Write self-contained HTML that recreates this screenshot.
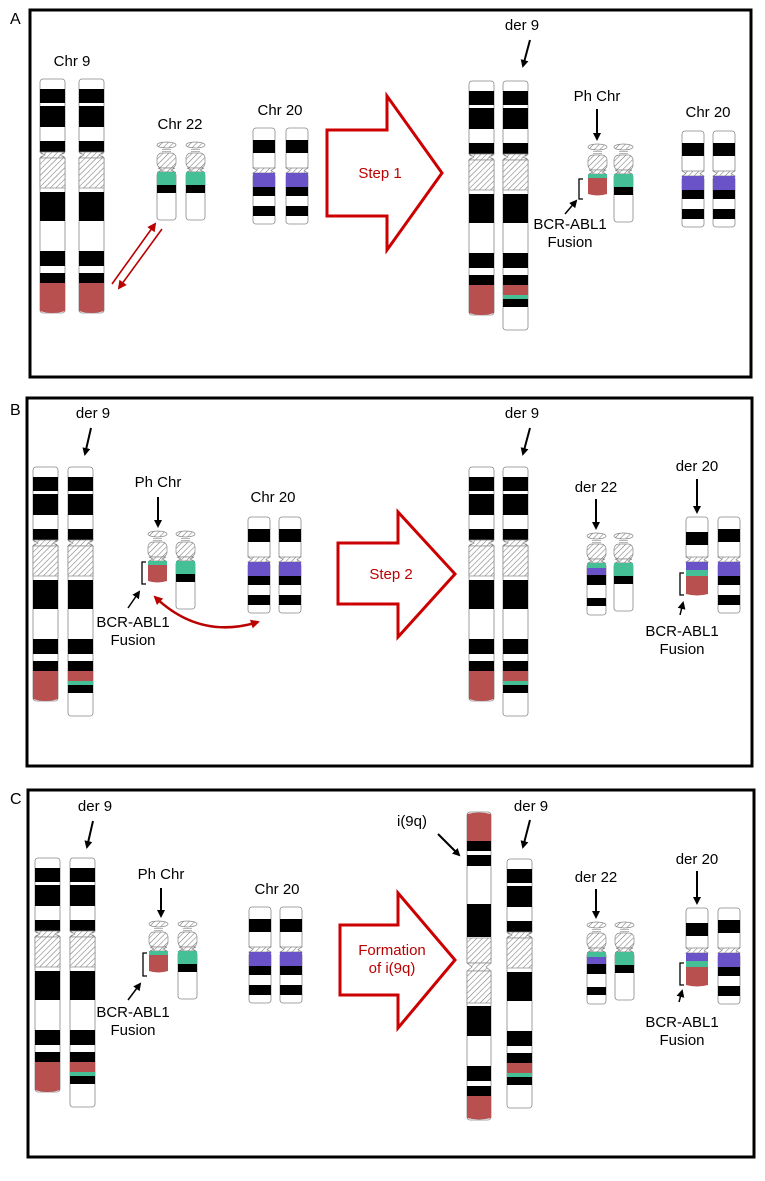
<!DOCTYPE html>
<html><head><meta charset="utf-8"><style>
html,body{margin:0;padding:0;background:#fff}
svg{display:block}
text{font-family:"Liberation Sans",sans-serif;font-size:15px;fill:#000;text-anchor:middle}
.o{fill:#fff;stroke:#888;stroke-width:.8}
.k{fill:#000}
.r{fill:#b95050}
.g{fill:#45c096}
.p{fill:#6a52c9}
.h{fill:url(#hp);stroke:#888;stroke-width:.7}
.box{fill:none;stroke:#000;stroke-width:3}
.ar{stroke:#000;stroke-width:2;fill:none;marker-end:url(#ah)}
.big{fill:#fff;stroke:#c00;stroke-width:3}
.rt{fill:#b00;font-size:15px}
.br{fill:none;stroke:#000;stroke-width:1.3}
</style></head><body>
<svg width="765" height="1181" viewBox="0 0 765 1181" xmlns="http://www.w3.org/2000/svg">
<defs>
<pattern id="hp" width="4" height="4" patternUnits="userSpaceOnUse" patternTransform="rotate(45)">
<rect width="4" height="4" fill="#fff"/><line x1="0" y1="0" x2="0" y2="4" stroke="#777" stroke-width="1.1"/></pattern>
<marker id="ah" markerWidth="8" markerHeight="8" refX="6" refY="4" orient="auto" markerUnits="userSpaceOnUse"><path d="M0,0 L8,4 L0,8 z" fill="#000"/></marker>
<marker id="rh" markerWidth="9" markerHeight="9" refX="7" refY="4.5" orient="auto" markerUnits="userSpaceOnUse"><path d="M0,0 L9,4.5 L0,9 z" fill="#b00"/></marker>
<marker id="rhs" markerWidth="9" markerHeight="9" refX="2" refY="4.5" orient="auto" markerUnits="userSpaceOnUse"><path d="M9,0 L0,4.5 L9,9 z" fill="#b00"/></marker>

<g id="c9">
<rect class="o" x="0" y="0" width="25" height="75" rx="3"/>
<rect class="o" x="0" y="77" width="25" height="157" rx="3"/>
<rect class="k" x="0" y="10" width="25" height="14"/><rect class="k" x="0" y="27" width="25" height="21"/><rect class="k" x="0" y="62" width="25" height="11"/>
<polygon class="h" points="0,73 25,73 20,76 25,79 0,79 5,76"/>
<rect class="h" x="0" y="79" width="25" height="30"/>
<rect class="k" x="0" y="113" width="25" height="29"/><rect class="k" x="0" y="172" width="25" height="15"/><rect class="k" x="0" y="194" width="25" height="10"/>
<path class="r" d="M0,204 H25 V232 Q12.5,236 0,232 Z"/>
</g>
<g id="d9">
<rect class="o" x="0" y="0" width="25" height="75" rx="3"/>
<rect class="o" x="0" y="77" width="25" height="172" rx="3"/>
<rect class="k" x="0" y="10" width="25" height="14"/><rect class="k" x="0" y="27" width="25" height="21"/><rect class="k" x="0" y="62" width="25" height="11"/>
<polygon class="h" points="0,73 25,73 20,76 25,79 0,79 5,76"/>
<rect class="h" x="0" y="79" width="25" height="30"/>
<rect class="k" x="0" y="113" width="25" height="29"/><rect class="k" x="0" y="172" width="25" height="15"/><rect class="k" x="0" y="194" width="25" height="10"/>
<rect class="r" x="0" y="204" width="25" height="10"/><rect class="g" x="0" y="214" width="25" height="4"/><rect class="k" x="0" y="218" width="25" height="8"/>
</g>
<g id="top22">
<ellipse class="h" cx="9.5" cy="3" rx="9.5" ry="3"/>
<line x1="5" y1="7.5" x2="14" y2="7.5" stroke="#999" stroke-width=".7"/><line x1="5" y1="9.5" x2="14" y2="9.5" stroke="#999" stroke-width=".7"/>
<rect class="h" x="0" y="11" width="19" height="15" rx="5"/>
<polygon class="h" points="1,26 18,26 14,28 18,30 1,30 5,28"/>
</g>
<g id="c22"><use href="#top22"/>
<rect class="o" x="0" y="30" width="19" height="48" rx="3"/>
<rect class="g" x="0" y="30" width="19" height="13"/><rect class="k" x="0" y="43" width="19" height="8"/></g>
<g id="ph"><use href="#top22"/>
<rect class="g" x="0" y="30" width="19" height="4"/>
<path class="r" d="M0,34 H19 V50 Q9.5,53 0,50 Z"/></g>
<g id="d22"><use href="#top22"/>
<rect class="o" x="0" y="30" width="19" height="52" rx="3"/>
<rect class="g" x="0" y="30" width="19" height="5"/><rect class="p" x="0" y="35" width="19" height="7"/><rect class="k" x="0" y="42" width="19" height="10"/><rect class="k" x="0" y="65" width="19" height="8"/></g>
<g id="c20">
<rect class="o" x="0" y="0" width="22" height="41" rx="3"/>
<rect class="o" x="0" y="45" width="22" height="51" rx="3"/>
<rect class="k" x="0" y="12" width="22" height="13"/>
<polygon class="h" points="0,40 22,40 18,42.5 22,45 0,45 4,42.5"/>
<rect class="p" x="0" y="45" width="22" height="14"/><rect class="k" x="0" y="59" width="22" height="9"/><rect class="k" x="0" y="78" width="22" height="10"/></g>
<g id="d20">
<rect class="o" x="0" y="0" width="22" height="41" rx="3"/>
<rect class="k" x="0" y="15" width="22" height="13"/>
<polygon class="h" points="0,40 22,40 18,42.5 22,45 0,45 4,42.5"/>
<rect class="p" x="0" y="45" width="22" height="8"/><rect class="g" x="0" y="53" width="22" height="6"/>
<path class="r" d="M0,59 H22 V77 Q11,80 0,77 Z"/></g>
<g id="i9">
<rect class="o" x="0" y="0" width="24" height="152" rx="3"/>
<rect class="o" x="0" y="158" width="24" height="150" rx="3"/>
<path class="r" d="M0,2 Q12,-1 24,2 V29 H0 Z"/>
<rect class="k" x="0" y="29" width="24" height="10"/><rect class="k" x="0" y="43" width="24" height="11"/><rect class="k" x="0" y="92" width="24" height="33"/>
<rect class="h" x="0" y="126" width="24" height="25"/>
<polygon class="h" points="0,151 24,151 19,155 24,159 0,159 5,155"/>
<rect class="h" x="0" y="159" width="24" height="32"/>
<rect class="k" x="0" y="194" width="24" height="30"/><rect class="k" x="0" y="254" width="24" height="15"/><rect class="k" x="0" y="274" width="24" height="10"/>
<path class="r" d="M0,284 H24 V306 Q12,309 0,306 Z"/></g>
</defs>

<!-- PANEL A -->
<text x="10" y="24" style="font-size:16px;text-anchor:start">A</text>
<rect class="box" x="30" y="10" width="721" height="367"/>
<text x="72" y="66">Chr 9</text>
<use href="#c9" x="40" y="79"/><use href="#c9" x="79" y="79"/>
<text x="180" y="129">Chr 22</text>
<use href="#c22" x="157" y="142"/><use href="#c22" x="186" y="142"/>
<text x="280" y="115">Chr 20</text>
<use href="#c20" x="253" y="128"/><use href="#c20" x="286" y="128"/>
<line x1="112" y1="284" x2="155" y2="224" stroke="#b00" stroke-width="1.6" marker-end="url(#rh)"/>
<line x1="162" y1="229" x2="119" y2="288" stroke="#b00" stroke-width="1.6" marker-end="url(#rh)"/>
<polygon class="big" points="327,130 387,130 387,96 442,173 387,250 387,216 327,216"/>
<text class="rt" x="380" y="178">Step 1</text>
<text x="522" y="30">der 9</text>
<line class="ar" x1="530" y1="40" x2="523" y2="66"/>
<use href="#c9" x="469" y="81"/><use href="#d9" x="503" y="81"/>
<text x="597" y="101">Ph Chr</text>
<line class="ar" x1="597" y1="109" x2="597" y2="139"/>
<use href="#ph" x="588" y="144"/><use href="#c22" x="614" y="144"/>
<path class="br" d="M583,179 H579 V199 H583"/>
<line class="ar" x1="565" y1="214" x2="576" y2="201" style="stroke-width:1.5"/>
<text x="570" y="229">BCR-ABL1</text><text x="570" y="247">Fusion</text>
<text x="708" y="117">Chr 20</text>
<use href="#c20" x="682" y="131"/><use href="#c20" x="713" y="131"/>

<!-- PANEL B -->
<text x="10" y="415" style="font-size:16px;text-anchor:start">B</text>
<rect class="box" x="27" y="398" width="725" height="368"/>
<text x="93" y="418">der 9</text>
<line class="ar" x1="91" y1="428" x2="85" y2="454"/>
<use href="#c9" x="33" y="467"/><use href="#d9" x="68" y="467"/>
<text x="158" y="487">Ph Chr</text>
<line class="ar" x1="158" y1="497" x2="158" y2="526"/>
<use href="#ph" x="148" y="531"/><use href="#c22" x="176" y="531"/>
<path class="br" d="M146,562 H142 V584 H146"/>
<line class="ar" x1="128" y1="608" x2="139" y2="592" style="stroke-width:1.5"/>
<text x="133" y="627">BCR-ABL1</text><text x="133" y="645">Fusion</text>
<text x="273" y="502">Chr 20</text>
<use href="#c20" x="248" y="517"/><use href="#c20" x="279" y="517"/>
<path d="M155,597 Q200,640 258,622" fill="none" stroke="#b00" stroke-width="2.5" marker-end="url(#rh)" marker-start="url(#rhs)"/>
<polygon class="big" points="338,543 398,543 398,512 455,574 398,637 398,604 338,604"/>
<text class="rt" x="391" y="579">Step 2</text>
<text x="522" y="418">der 9</text>
<line class="ar" x1="530" y1="428" x2="523" y2="454"/>
<use href="#c9" x="469" y="467"/><use href="#d9" x="503" y="467"/>
<text x="596" y="492">der 22</text>
<line class="ar" x1="596" y1="499" x2="596" y2="528"/>
<use href="#d22" x="587" y="533"/><use href="#c22" x="614" y="533"/>
<text x="697" y="471">der 20</text>
<line class="ar" x1="697" y1="479" x2="697" y2="512"/>
<use href="#d20" x="686" y="517"/><use href="#c20" x="718" y="517"/>
<path class="br" d="M684,573 H680 V595 H684"/>
<line class="ar" x1="680" y1="615" x2="683" y2="603" style="stroke-width:1.5"/>
<text x="682" y="636">BCR-ABL1</text><text x="682" y="654">Fusion</text>

<!-- PANEL C -->
<text x="10" y="804" style="font-size:16px;text-anchor:start">C</text>
<rect class="box" x="28" y="790" width="726" height="367"/>
<text x="95" y="811">der 9</text>
<line class="ar" x1="93" y1="821" x2="87" y2="847"/>
<use href="#c9" x="35" y="858"/><use href="#d9" x="70" y="858"/>
<text x="161" y="879">Ph Chr</text>
<line class="ar" x1="161" y1="888" x2="161" y2="916"/>
<use href="#ph" x="149" y="921"/><use href="#c22" x="178" y="921"/>
<path class="br" d="M147,953 H143 V976 H147"/>
<line class="ar" x1="128" y1="1000" x2="140" y2="984" style="stroke-width:1.5"/>
<text x="133" y="1017">BCR-ABL1</text><text x="133" y="1035">Fusion</text>
<text x="277" y="894">Chr 20</text>
<use href="#c20" x="249" y="907"/><use href="#c20" x="280" y="907"/>
<polygon class="big" points="340,925 398,925 398,893 455,960 398,1028 398,995 340,995"/>
<text class="rt" x="392" y="955">Formation</text><text class="rt" x="392" y="973">of i(9q)</text>
<text x="412" y="826">i(9q)</text>
<line class="ar" x1="438" y1="834" x2="459" y2="855"/>
<use href="#i9" x="467" y="812"/>
<text x="531" y="811">der 9</text>
<line class="ar" x1="530" y1="820" x2="523" y2="847"/>
<use href="#d9" x="507" y="859"/>
<text x="596" y="882">der 22</text>
<line class="ar" x1="596" y1="889" x2="596" y2="917"/>
<use href="#d22" x="587" y="922"/><use href="#c22" x="615" y="922"/>
<text x="697" y="864">der 20</text>
<line class="ar" x1="697" y1="871" x2="697" y2="903"/>
<use href="#d20" x="686" y="908"/><use href="#c20" x="718" y="908"/>
<path class="br" d="M684,963 H680 V985 H684"/>
<line class="ar" x1="679" y1="1002" x2="682" y2="991" style="stroke-width:1.5"/>
<text x="682" y="1027">BCR-ABL1</text><text x="682" y="1045">Fusion</text>
</svg>
</body></html>
